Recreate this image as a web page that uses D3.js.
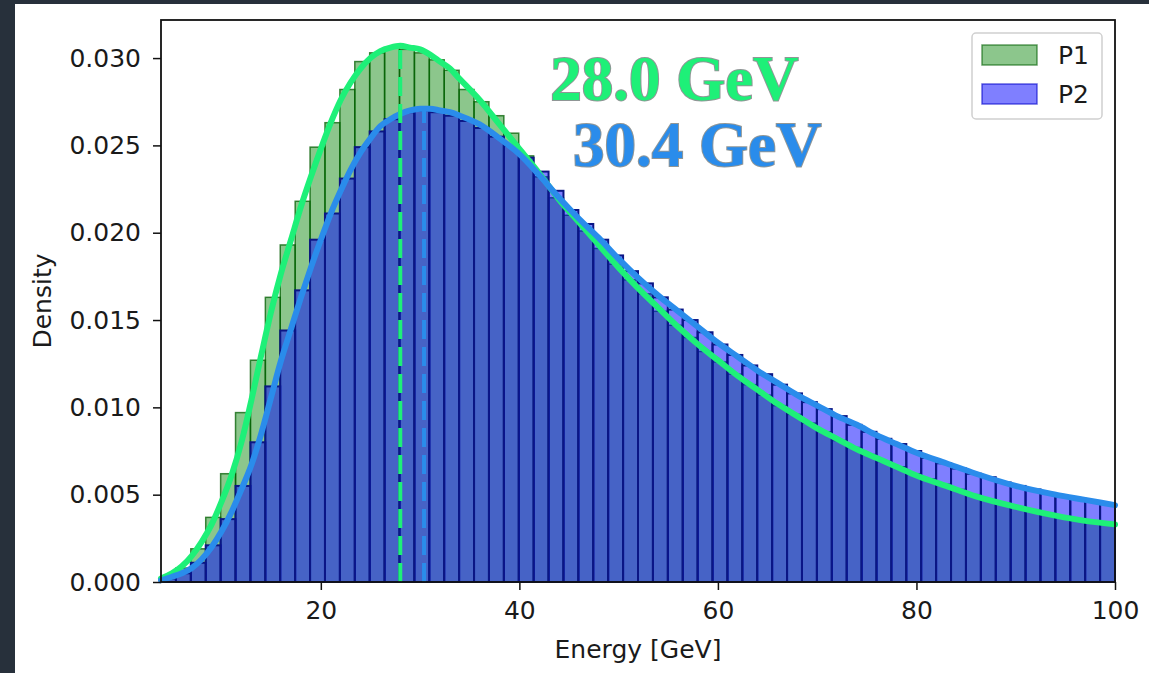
<!DOCTYPE html>
<html>
<head>
<meta charset="utf-8">
<script src="https://cdn.jsdelivr.net/npm/d3@7"></script>
<style>
  body { margin: 0; background: #27303b; }
  svg { display: block; }
</style>
</head>
<body>
<script>
var W = 1149, H = 673;

// histogram bins (matplotlib style: min, max, count)
var binLo = 3.9, binHi = 100, binCount = 64;

// bar heights (density)
var p1Bars = [0.0003, 0.0008, 0.0019, 0.0037, 0.0062, 0.0097, 0.0127, 0.0163, 0.0193, 0.0218,
  0.0249, 0.0263, 0.0282, 0.0298, 0.0303, 0.0306, 0.0305, 0.0303, 0.0299, 0.0293,
  0.0282, 0.0275, 0.0267, 0.0257, 0.0244, 0.0232, 0.0220, 0.0210, 0.0201, 0.0191,
  0.0182, 0.0173, 0.0165, 0.0155, 0.0147, 0.0140, 0.0132, 0.0126, 0.0119, 0.0113,
  0.0107, 0.0101, 0.0096, 0.0091, 0.0086, 0.0081, 0.0077, 0.0073, 0.0069, 0.0066,
  0.0062, 0.0059, 0.0056, 0.0053, 0.0050, 0.0047, 0.0045, 0.0043, 0.0041, 0.0039,
  0.0037, 0.0036, 0.0034, 0.0033];
var p2Bars = [0.0002, 0.0005, 0.0011, 0.0021, 0.0036, 0.0055, 0.0080, 0.0112, 0.0144, 0.0167,
  0.0196, 0.0211, 0.0231, 0.0249, 0.0258, 0.0265, 0.0269, 0.0270, 0.0269, 0.0267,
  0.0264, 0.0260, 0.0255, 0.0250, 0.0243, 0.0235, 0.0224, 0.0213, 0.0205, 0.0196,
  0.0187, 0.0178, 0.0171, 0.0163, 0.0156, 0.0150, 0.0143, 0.0136, 0.0130, 0.0124,
  0.0119, 0.0113, 0.0108, 0.0103, 0.0099, 0.0095, 0.0090, 0.0086, 0.0082, 0.0079,
  0.0075, 0.0071, 0.0068, 0.0065, 0.0062, 0.0060, 0.0057, 0.0055, 0.0053, 0.0051,
  0.0049, 0.0048, 0.0046, 0.0045];

// smooth density curves
var curveE = [3.9, 5, 6, 7, 8, 9, 10, 11, 12, 13, 14, 15, 16, 17, 18, 19, 20, 21, 22, 23,
  24, 25, 26, 27, 28, 29, 30, 31, 32, 33, 34, 36, 38, 40, 42, 44, 46, 48, 50, 52,
  54, 56, 58, 60, 62, 64, 66, 68, 70, 72, 74, 76, 78, 80, 83, 86, 90, 94, 97, 100];
var p1Curve = [0.0002, 0.0005, 0.0009, 0.0015, 0.0023, 0.0033, 0.0046, 0.0061, 0.0080, 0.0104,
  0.0130, 0.0155, 0.0177, 0.0196, 0.0215, 0.0232, 0.0248, 0.0263, 0.0276, 0.0286,
  0.0294, 0.0300, 0.0304, 0.0306, 0.0307, 0.0306, 0.0305, 0.0302, 0.0298, 0.0294,
  0.0288, 0.0276, 0.0262, 0.0248, 0.0234, 0.0219, 0.0206, 0.0193, 0.0180, 0.0168,
  0.0157, 0.0146, 0.0136, 0.0127, 0.0118, 0.0110, 0.0102, 0.0095, 0.0088, 0.0082,
  0.0076, 0.0071, 0.0066, 0.0061, 0.0055, 0.0049, 0.0043, 0.0038, 0.0035, 0.0033];
var p2Curve = [0.0001, 0.0003, 0.0005, 0.0008, 0.0013, 0.0020, 0.0029, 0.0040, 0.0053, 0.0067,
  0.0085, 0.0106, 0.0127, 0.0145, 0.0163, 0.0180, 0.0196, 0.0211, 0.0224, 0.0236,
  0.0246, 0.0254, 0.0261, 0.0265, 0.0268, 0.0270, 0.0271, 0.0271, 0.0270, 0.0269,
  0.0267, 0.0262, 0.0254, 0.0245, 0.0233, 0.0220, 0.0208, 0.0197, 0.0185, 0.0174,
  0.0164, 0.0155, 0.0146, 0.0137, 0.0129, 0.0121, 0.0114, 0.0107, 0.0101, 0.0095,
  0.0090, 0.0084, 0.0079, 0.0074, 0.0068, 0.0062, 0.0055, 0.0050, 0.0047, 0.0044];

// peak markers
var peakE = [28.0, 30.4];
var peakD = [0.0307, 0.0271];
var peakLabels = ['28.0 GeV', '30.4 GeV'];

var seriesNames = ['P1', 'P2'];
var xTicks = [20, 40, 60, 80, 100];
var yTicks = [0, 0.005, 0.010, 0.015, 0.020, 0.025, 0.030];

var m = {left: 161, right: 1115, top: 20, bottom: 582};

var x = d3.scaleLinear().domain([binLo, binHi]).range([m.left, m.right]);
var y = d3.scaleLinear().domain([0, 0.03218]).range([m.bottom, m.top]);

var binW = (binHi - binLo) / binCount;
var edges = d3.range(binCount).map(function(i){ return binLo + i * binW; });

var svg = d3.select('body').append('svg')
  .attr('width', W)
  .attr('height', H);

// white page over the dark frame
svg.append('rect').attr('width', W).attr('height', H).attr('fill', '#27303b');
svg.append('rect').attr('x', 15).attr('y', 4).attr('width', W - 15).attr('height', H - 4).attr('fill', '#fff');

function bars(vals, cls, fill, stroke, sw) {
  svg.selectAll('rect.' + cls)
    .data(vals)
    .enter()
    .append('rect')
    .attr('class', cls)
    .attr('x', function(d, i){ return x(edges[i]); })
    .attr('width', function(d, i){ return x(edges[i] + binW) - x(edges[i]); })
    .attr('y', function(d){ return y(d); })
    .attr('height', function(d){ return y(0) - y(d); })
    .attr('fill', fill)
    .attr('stroke', stroke)
    .attr('stroke-width', sw);
}
bars(p1Bars, 'p1', 'rgba(0,128,0,0.45)', 'rgba(0,95,0,0.75)', 1.5);
bars(p2Bars, 'p2', 'rgba(0,0,255,0.5)', '#0b1685', 2);

// curves
var line = d3.line()
  .x(function(d){ return x(d[0]); })
  .y(function(d){ return y(d[1]); })
  .curve(d3.curveMonotoneX);

var curveColors = ['#1ef078', '#2a8ceb'];
[p1Curve, p2Curve].forEach(function(c, k){
  svg.append('path')
    .datum(curveE.map(function(e, i){ return [e, c[i]]; }))
    .attr('d', line)
    .attr('fill', 'none')
    .attr('stroke', curveColors[k])
    .attr('stroke-width', 6)
    .attr('stroke-linecap', 'round');
});

// dashed lines at the peaks
svg.selectAll('line.peak')
  .data(peakE)
  .enter()
  .append('line')
  .attr('class', 'peak')
  .attr('x1', function(d){ return x(d); })
  .attr('x2', function(d){ return x(d); })
  .attr('y1', y(0))
  .attr('y2', function(d, i){ return y(peakD[i]); })
  .attr('stroke', function(d, i){ return curveColors[i]; })
  .attr('stroke-width', 4)
  .attr('stroke-dasharray', '19,8');

// axes
var xAxis = svg.append('g')
  .attr('transform', 'translate(0,' + m.bottom + ')')
  .call(d3.axisBottom(x).tickValues(xTicks).tickSize(8).tickPadding(10));
var yAxis = svg.append('g')
  .attr('transform', 'translate(' + m.left + ',0)')
  .call(d3.axisLeft(y).tickValues(yTicks).tickSize(8).tickPadding(12).tickFormat(d3.format('.3f')));
[xAxis, yAxis].forEach(function(a){
  a.select('.domain').remove();
  a.selectAll('.tick line').attr('stroke', '#111').attr('stroke-width', 1.5);
  a.selectAll('.tick text')
    .attr('fill', '#1a1a1a')
    .style('font-family', 'DejaVu Sans')
    .style('font-size', '25px');
});
xAxis.selectAll('.tick text').attr('dy', '0.75em');

// frame
svg.append('rect')
  .attr('x', m.left).attr('y', m.top)
  .attr('width', m.right - m.left).attr('height', m.bottom - m.top)
  .attr('fill', 'none')
  .attr('stroke', '#111')
  .attr('stroke-width', 1.8);

// axis titles
svg.append('text')
  .attr('x', (m.left + m.right) / 2)
  .attr('y', 658)
  .attr('text-anchor', 'middle')
  .style('font-family', 'DejaVu Sans')
  .style('font-size', '25px')
  .attr('fill', '#1a1a1a')
  .text('Energy [GeV]');
svg.append('text')
  .attr('transform', 'translate(51,' + ((m.top + m.bottom) / 2) + ') rotate(-90)')
  .attr('text-anchor', 'middle')
  .style('font-family', 'DejaVu Sans')
  .style('font-size', '25px')
  .attr('fill', '#1a1a1a')
  .text('Density');

// peak annotations
var annE = [43.1, 45.4];
var annD = [0.0276, 0.0238];
svg.selectAll('text.ann')
  .data(peakLabels)
  .enter()
  .append('text')
  .attr('class', 'ann')
  .attr('x', function(d, i){ return x(annE[i]); })
  .attr('y', function(d, i){ return y(annD[i]); })
  .style('font-family', 'Liberation Serif')
  .style('font-weight', 'bold')
  .style('font-size', '63px')
  .attr('fill', function(d, i){ return curveColors[i]; })
  .attr('stroke', 'rgba(70,80,80,0.6)')
  .attr('stroke-width', 2)
  .style('paint-order', 'stroke')
  .text(function(d){ return d; });

// legend
var lg = svg.append('g');
lg.append('rect')
  .attr('x', 972).attr('y', 33)
  .attr('width', 130).attr('height', 86)
  .attr('rx', 4)
  .attr('fill', 'rgba(255,255,255,0.8)')
  .attr('stroke', '#d0d0d0')
  .attr('stroke-width', 1.5);
var legFill = ['rgba(0,128,0,0.45)', 'rgba(0,0,255,0.5)'];
var legStroke = ['rgba(0,95,0,0.6)', 'rgba(0,0,200,0.6)'];
seriesNames.forEach(function(s, i){
  lg.append('rect')
    .attr('x', 982).attr('y', 45 + i * 39)
    .attr('width', 55).attr('height', 20)
    .attr('fill', legFill[i])
    .attr('stroke', legStroke[i])
    .attr('stroke-width', 1.5);
  lg.append('text')
    .attr('x', 1058).attr('y', 64 + i * 39)
    .style('font-family', 'DejaVu Sans')
    .style('font-size', '25px')
    .attr('fill', '#1a1a1a')
    .text(s);
});
</script>
</body>
</html>
